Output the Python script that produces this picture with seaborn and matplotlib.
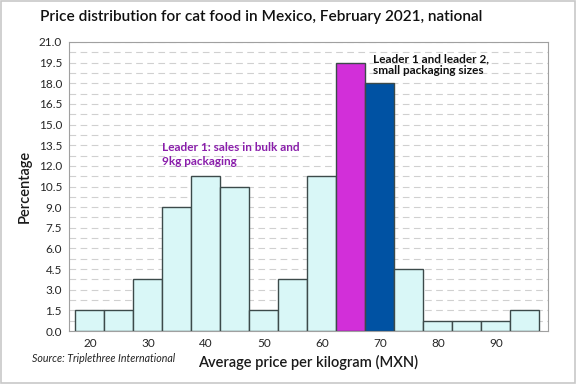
import matplotlib
matplotlib.use("Agg")
import matplotlib.pyplot as plt
import seaborn as sns
import numpy as np
import pandas as pd

bin_centers = [20, 25, 30, 35, 40, 45, 50, 55, 60, 65, 70, 75, 80, 85, 90, 95]
percentages = [1.5, 1.5, 3.75, 9.0, 11.25, 10.5, 1.5, 3.75, 11.25, 19.5, 18.0, 4.5, 0.75, 0.75, 0.75, 1.5]
bin_edges = [17.5 + 5 * i for i in range(17)]
highlight = {65: "#d22fd9", 70: "#0052a3"}
x_ticks = [20, 30, 40, 50, 60, 70, 80, 90]
y_ticks = [round(1.5 * i, 1) for i in range(15)]

sns.set_theme(style="white")
plt.rcParams['font.family'] = ['Lato', 'DejaVu Sans']

df = pd.DataFrame({"price": bin_centers, "pct": percentages})

fig = plt.figure(figsize=(5.76, 3.84), dpi=100)
ax = fig.add_axes([69/576, 1 - 331/384, 479/576, 289/384])

sns.histplot(data=df, x="price", weights="pct", bins=bin_edges, ax=ax,
             color="#d9f7f7", edgecolor="#3c4a4a", linewidth=1.0, alpha=1.0, zorder=3)
for p, c in zip(ax.patches, bin_centers):
    if c in highlight:
        p.set_facecolor(highlight[c])

ax.set_xlim(16.4, 99.0)
ax.set_ylim(0, 21.0)
ax.set_xticks(x_ticks)
ax.set_xticklabels([str(t) for t in x_ticks], fontsize=8.5)
ax.set_yticks(y_ticks)
ax.set_yticklabels([f"{t:.1f}" for t in y_ticks], fontsize=8.5)
ax.set_yticks(np.arange(0.75, 21.0, 1.5), minor=True)
ax.tick_params(axis="both", which="major", direction="out", length=3, width=0.8, color="#808080", pad=2)
ax.tick_params(axis="y", which="minor", length=0)
ax.grid(True, axis="y", which="both", linestyle=(0, (6, 4)), color="#d0d0d0", linewidth=0.8, zorder=0)
ax.set_axisbelow(True)
for s in ax.spines.values():
    s.set_color("#a0a0a0")
    s.set_linewidth(0.8)

ax.set_xlabel("Average price per kilogram (MXN)", fontsize=10.5, fontweight="semibold",
              color="#1a1a1a", labelpad=4)
ax.set_ylabel("Percentage", fontsize=10.5, fontweight="semibold", color="#1a1a1a", labelpad=5)

fig.text(261.5/576, 1 - 17/384, "Price distribution for cat food in Mexico, February 2021, national",
         ha="center", va="center", fontsize=11.1, fontweight="semibold", color="#111111")
fig.text(32/576, 1 - 359/384, "Source: Triplethree International", fontsize=7.7,
         style="italic", color="#222222", va="center")

ax.text(68.8, 20.2, "Leader 1 and leader 2,\nsmall packaging sizes", fontsize=8.5,
        fontweight="bold", color="#111111", va="top", ha="left", linespacing=1.15)
ax.text(32.4, 13.7, "Leader 1: sales in bulk and\n9kg packaging", fontsize=8.5,
        fontweight="bold", color="#8a1fab", va="top", ha="left", linespacing=1.3)

border = plt.Rectangle((0.002, 0.003), 0.996, 0.994, transform=fig.transFigure,
                       fill=False, edgecolor="#c8c8c8", linewidth=1.2)
fig.patches.append(border)

fig.savefig("out.png", dpi=100)
